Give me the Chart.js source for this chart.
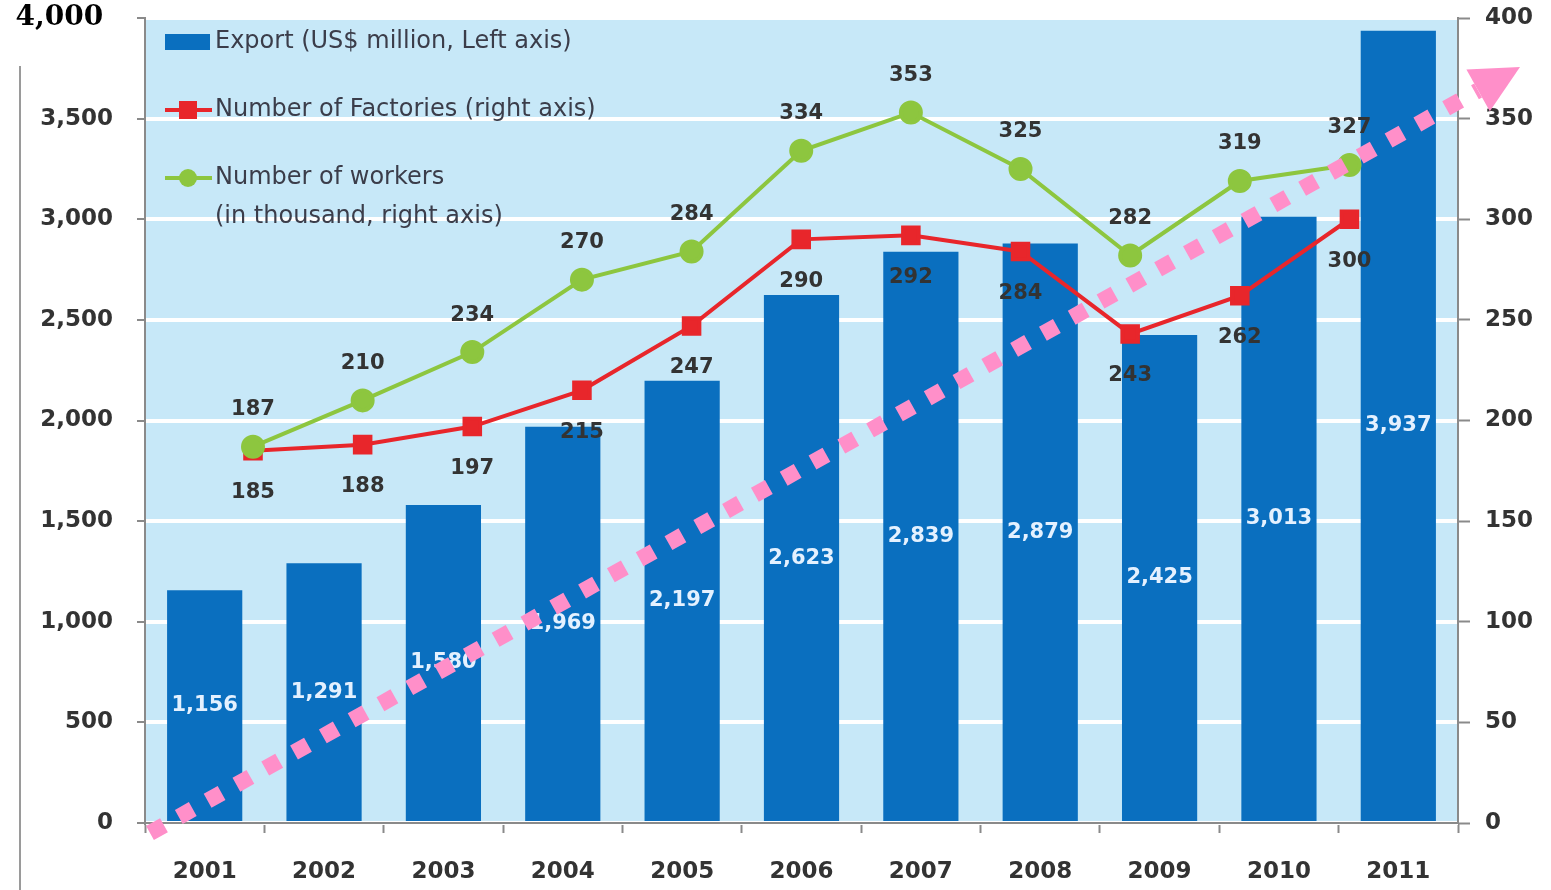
<!DOCTYPE html>
<html>
<head>
<meta charset="utf-8">
<script src="https://cdn.jsdelivr.net/npm/chart.js@4"></script>
<style>
  body { margin: 0; background: #fff; }
</style>
</head>
<body>
<canvas id="chart" width="1551" height="890"></canvas>
<script>
// x-axis labels
var years = ["2001","2002","2003","2004","2005","2006","2007","2008","2009","2010","2011"];
// Export (US$ million, left axis)
var exportVals = [1156,1291,1580,1969,2197,2623,2839,2879,2425,3013,3937];
// Number of factories (right axis)
var factories = [185,188,197,215,247,290,292,284,243,262,300];
// Number of workers, thousand (right axis)
var workers = [187,210,234,270,284,334,353,325,282,319,327];

var BLUE = "#0a6fbf";
var RED = "#e8262b";
var GREEN = "#8dc63f";
var TXT = "#333333";
var SANS = "'DejaVu Sans', sans-serif";

function toPts(arr) {
  return arr.map(function (v, i) { return { x: i, y: v }; });
}

function noPad(s) { s.paddingTop = 0; s.paddingBottom = 0; s.paddingLeft = 0; s.paddingRight = 0; }

// light blue plot background
var bgPlugin = {
  id: "bg",
  beforeDraw: function (chart) {
    var a = chart.chartArea, c = chart.ctx;
    c.save();
    c.fillStyle = "#c7e8f8";
    c.fillRect(a.left, a.top, a.right - a.left, a.bottom - a.top);
    // stray frame line at far left
    c.strokeStyle = "#9a9a9a";
    c.lineWidth = 2;
    c.beginPath();
    c.moveTo(20, 66);
    c.lineTo(20, 890);
    c.stroke();
    c.restore();
  }
};

// value labels
var labelPlugin = {
  id: "vlabels",
  afterDatasetsDraw: function (chart) {
    var c = chart.ctx;
    c.save();
    c.textAlign = "center";
    c.textBaseline = "middle";
    c.font = "bold 21px " + SANS;
    chart.getDatasetMeta(0).data.forEach(function (bar, i) {
      c.fillStyle = "#e4f1ff";
      c.fillText(exportVals[i].toLocaleString("en-US"), bar.x, (bar.y + bar.base) / 2);
    });
    c.fillStyle = TXT;
    chart.getDatasetMeta(1).data.forEach(function (p, i) {
      c.fillText(String(factories[i]), p.x, p.y + 42);
    });
    chart.getDatasetMeta(2).data.forEach(function (p, i) {
      c.fillText(String(workers[i]), p.x, p.y - 37);
    });
    c.restore();
  }
};

// legend inside the plot
var legendPlugin = {
  id: "inlegend",
  afterDraw: function (chart) {
    var a = chart.chartArea, c = chart.ctx;
    var x0 = a.left + 20, tx = a.left + 70;
    var ds = chart.data.datasets;
    c.save();
    c.font = "24px " + SANS;
    c.fillStyle = "#3b3d4a";
    c.textAlign = "left";
    c.textBaseline = "middle";

    var y1 = a.top + 24;
    c.fillStyle = BLUE;
    c.fillRect(x0, y1 - 8, 45, 16);
    c.fillStyle = "#3b3d4a";
    c.fillText(ds[0].label, tx, y1);

    var y2 = a.top + 92;
    c.strokeStyle = RED; c.lineWidth = 4;
    c.beginPath(); c.moveTo(x0, y2); c.lineTo(x0 + 47, y2); c.stroke();
    c.fillStyle = RED; c.fillRect(x0 + 14, y2 - 9, 18, 18);
    c.fillStyle = "#3b3d4a";
    c.fillText(ds[1].label, tx, y2);

    var y3 = a.top + 160;
    c.strokeStyle = GREEN;
    c.beginPath(); c.moveTo(x0, y3); c.lineTo(x0 + 47, y3); c.stroke();
    c.fillStyle = GREEN;
    c.beginPath(); c.arc(x0 + 23, y3, 9, 0, Math.PI * 2); c.fill();
    c.fillStyle = "#3b3d4a";
    c.fillText("Number of workers", tx, y3);
    c.fillText("(in thousand, right axis)", tx, y3 + 39);
    c.restore();
  }
};

// pink dotted trend arrow on top
var arrowPlugin = {
  id: "arrow",
  afterDraw: function (chart) {
    var a = chart.chartArea, c = chart.ctx;
    var sx = a.left + 5, sy = a.bottom + 10;
    var tx = a.right + 62, ty = a.top + 49;
    var ang = Math.atan2(ty - sy, tx - sx);
    var headLen = 48;
    var ex = tx - Math.cos(ang) * headLen, ey = ty - Math.sin(ang) * headLen;
    c.save();
    c.strokeStyle = "#ff8fc9";
    c.fillStyle = "#ff8fc9";
    c.lineWidth = 16;
    c.setLineDash([16, 17]);
    c.beginPath(); c.moveTo(sx, sy); c.lineTo(ex, ey); c.stroke();
    c.setLineDash([]);
    var w = 24;
    c.beginPath();
    c.moveTo(tx, ty);
    c.lineTo(ex + Math.sin(ang) * w, ey - Math.cos(ang) * w);
    c.lineTo(ex - Math.sin(ang) * w, ey + Math.cos(ang) * w);
    c.closePath();
    c.fill();
    c.restore();
  }
};

var ctx = document.getElementById("chart");
var myChart = new Chart(ctx, {
  data: {
    labels: years,
    datasets: [
      {
        type: "bar",
        label: "Export (US$ million, Left axis)",
        data: exportVals,
        backgroundColor: BLUE,
        xAxisID: "x",
        yAxisID: "y",
        grouped: false,
        barPercentage: 0.63,
        categoryPercentage: 1,
        order: 3
      },
      {
        type: "line",
        label: "Number of Factories (right axis)",
        data: toPts(factories),
        borderColor: RED,
        backgroundColor: RED,
        borderWidth: 4,
        pointStyle: "rect",
        pointRadius: 11,
        pointHoverRadius: 11,
        xAxisID: "x2",
        yAxisID: "y1",
        order: 2
      },
      {
        type: "line",
        label: "Number of workers (in thousand, right axis)",
        data: toPts(workers),
        borderColor: GREEN,
        backgroundColor: GREEN,
        borderWidth: 4,
        pointStyle: "circle",
        pointRadius: 10,
        pointHoverRadius: 10,
        xAxisID: "x2",
        yAxisID: "y1",
        order: 1
      }
    ]
  },
  options: {
    responsive: false,
    animation: false,
    layout: { padding: { top: 18, left: 0, right: 0, bottom: 0 } },
    plugins: {
      legend: { display: false },
      tooltip: { enabled: false }
    },
    scales: {
      x: {
        type: "category",
        offset: true,
        grid: {
          offset: true,
          drawOnChartArea: false,
          drawTicks: true,
          tickLength: 10,
          tickColor: "#8a8a8a",
          tickWidth: 2
        },
        border: { color: "#8a8a8a", width: 2 },
        ticks: { color: TXT, font: { family: SANS, size: 23, weight: "bold" }, padding: 25 },
        afterFit: function (s) { s.height = 67; noPad(s); }
      },
      x2: {
        type: "linear",
        display: false,
        min: -0.985,
        max: 10.99
      },
      y: {
        position: "left",
        min: 0,
        max: 4000,
        ticks: {
          stepSize: 500,
          padding: 24,
          color: function (c) { return c.tick && c.tick.value === 4000 ? "#000" : TXT; },
          font: function (c) {
            if (c.tick && c.tick.value === 4000) {
              return { family: "'DejaVu Serif', serif", size: 28, weight: "bold" };
            }
            return { family: SANS, size: 23, weight: "bold" };
          },
          callback: function (v) {
            var s = v.toLocaleString("en-US");
            return v === 4000 ? s + " " : s;
          }
        },
        grid: {
          color: "#ffffff",
          lineWidth: 4,
          tickLength: 8,
          tickColor: "#8a8a8a",
          tickWidth: 2
        },
        border: { color: "#8a8a8a", width: 2 },
        afterFit: function (s) { s.width = 145; noPad(s); }
      },
      y1: {
        position: "right",
        min: 0,
        max: 400,
        ticks: {
          stepSize: 50,
          padding: 15,
          color: TXT,
          font: { family: SANS, size: 23, weight: "bold" }
        },
        grid: {
          drawOnChartArea: false,
          tickLength: 12,
          tickColor: "#8a8a8a",
          tickWidth: 2
        },
        border: { color: "#8a8a8a", width: 2 },
        afterFit: function (s) { s.width = 93; noPad(s); }
      }
    }
  },
  plugins: [bgPlugin, labelPlugin, legendPlugin, arrowPlugin]
});
</script>
</body>
</html>
